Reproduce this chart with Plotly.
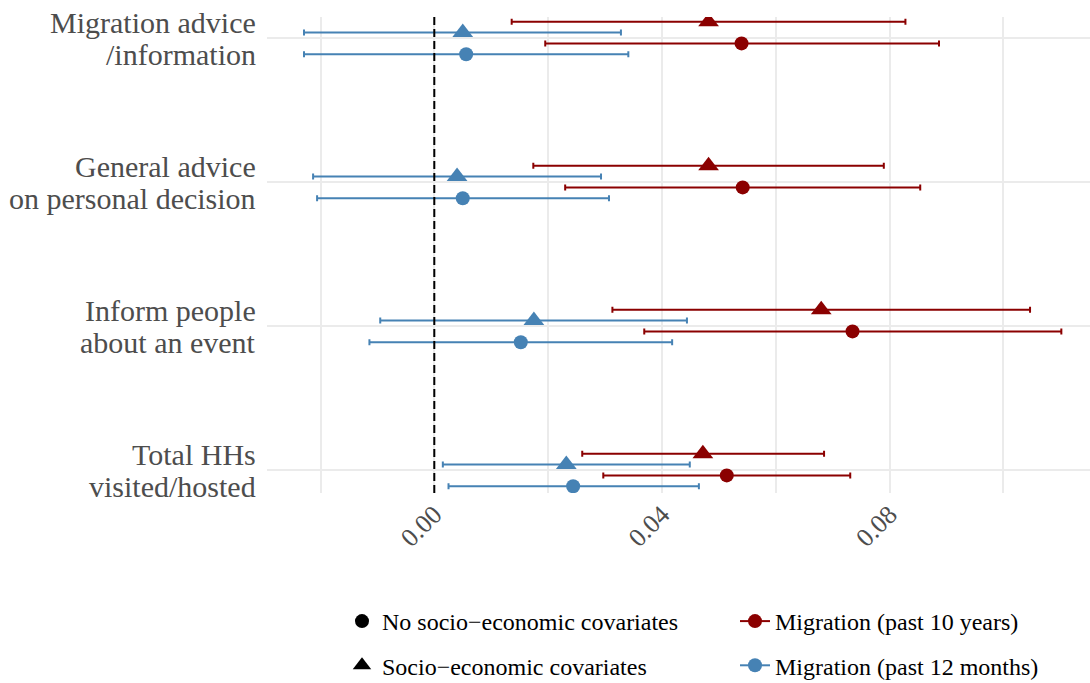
import plotly.graph_objects as go

# Outcome categories (top to bottom), each label split over two lines
category_lines = [
    ("Migration advice", "/information"),
    ("General advice", "on personal decision"),
    ("Inform people", "about an event"),
    ("Total HHs", "visited/hosted"),
]

# Coefficient estimates and 95% confidence bounds
m10_cov_est = [0.0482, 0.0482, 0.0680, 0.0472]
m10_cov_lo = [0.0136, 0.0174, 0.0313, 0.0260]
m10_cov_hi = [0.0828, 0.0790, 0.1047, 0.0685]

m12_cov_est = [0.0050, 0.0040, 0.0175, 0.0232]
m12_cov_lo = [-0.0229, -0.0213, -0.0095, 0.0015]
m12_cov_hi = [0.0328, 0.0293, 0.0444, 0.0449]

m10_nocov_est = [0.0540, 0.0542, 0.0735, 0.0514]
m10_nocov_lo = [0.0195, 0.0230, 0.0369, 0.0297]
m10_nocov_hi = [0.0887, 0.0854, 0.1102, 0.0731]

m12_nocov_est = [0.0056, 0.0050, 0.0152, 0.0244]
m12_nocov_lo = [-0.0229, -0.0206, -0.0114, 0.0025]
m12_nocov_hi = [0.0341, 0.0307, 0.0418, 0.0465]

x_ticks = [0.0, 0.04, 0.08]

RED = "#8B0000"
BLUE = "#4682B4"
FONT = "Liberation Serif, 'Times New Roman', Times, 'DejaVu Serif', serif"

W, H = 1090, 683
PLOT_LEFT, PLOT_TOP, PLOT_BOTTOM = 267, 17, 493

fig = go.Figure()

series = [
    # (est, lo, hi, color, symbol, size, dodge offset)
    (m10_cov_est, m10_cov_lo, m10_cov_hi, RED, "triangle-up", 18, -0.1125),
    (m12_cov_est, m12_cov_lo, m12_cov_hi, BLUE, "triangle-up", 18, -0.0375),
    (m10_nocov_est, m10_nocov_lo, m10_nocov_hi, RED, "circle", 14, 0.0375),
    (m12_nocov_est, m12_nocov_lo, m12_nocov_hi, BLUE, "circle", 14, 0.1125),
]

for est, lo, hi, color, symbol, size, off in series:
    ypos = [i + off for i in range(len(est))]
    fig.add_trace(go.Scatter(
        x=est, y=ypos, mode="markers", showlegend=False,
        marker=dict(color=color, symbol=symbol, size=size, line=dict(width=0)),
        error_x=dict(
            type="data", symmetric=False,
            array=[h - e for h, e in zip(hi, est)],
            arrayminus=[e - l for e, l in zip(est, lo)],
            color=color, thickness=2, width=3,
        ),
    ))

# Legend: marker shape = covariate specification
fig.add_trace(go.Scatter(
    x=[None], y=[None], mode="markers", name="No socio\u2212economic covariates",
    marker=dict(color="black", symbol="circle", size=14),
    legend="legend", legendgroup="a",
))
fig.add_trace(go.Scatter(
    x=[None], y=[None], mode="markers", name="Socio\u2212economic covariates",
    marker=dict(color="black", symbol="triangle-up", size=18),
    legend="legend", legendgroup="b",
))
# Legend: colour = migration measure
fig.add_trace(go.Scatter(
    x=[None], y=[None], mode="lines+markers", name="Migration (past 10 years)",
    marker=dict(color=RED, symbol="circle", size=14), line=dict(color=RED, width=2),
    legend="legend2", legendgroup="c",
))
fig.add_trace(go.Scatter(
    x=[None], y=[None], mode="lines+markers", name="Migration (past 12 months)",
    marker=dict(color=BLUE, symbol="circle", size=14), line=dict(color=BLUE, width=2),
    legend="legend2", legendgroup="d",
))

# Zero reference line
fig.add_shape(type="line", x0=0, x1=0, xref="x", y0=0, y1=1, yref="paper",
              line=dict(color="black", width=2, dash="8px,4px"))

# Two-line category labels on the left
for i, (l1, l2) in enumerate(category_lines):
    for txt, shift in ((l1, 16), (l2, -16)):
        fig.add_annotation(
            x=(PLOT_LEFT - 9) / W, xref="paper", y=i, yref="y", yshift=shift,
            text=txt, showarrow=False, xanchor="right", yanchor="middle",
            font=dict(family=FONT, size=30, color="#4d4d4d"),
        )

px_per_unit = 5690.0
x_zero = 434.3
x_min = (PLOT_LEFT - x_zero) / px_per_unit
x_max = (W - x_zero) / px_per_unit

row_px = 144.0
y_top = -(38 - PLOT_TOP) / row_px
y_bot = 3 + (PLOT_BOTTOM - 470) / row_px

grid = "#ebebeb"
fig.update_xaxes(
    domain=[PLOT_LEFT / W, 1], range=[x_min, x_max],
    tickvals=x_ticks, tickformat=".2f", tickangle=-45,
    tickfont=dict(family=FONT, size=26, color="#4d4d4d"),
    showgrid=True, gridcolor=grid, gridwidth=1.8, zeroline=False,
    showline=False, ticks="", automargin=False,
    minor=dict(tickvals=[-0.02, 0.02, 0.06, 0.10], showgrid=True,
               gridcolor=grid, gridwidth=1.8, ticks=""),
)
fig.update_yaxes(
    range=[y_bot, y_top], tickvals=[0, 1, 2, 3], showticklabels=False,
    showgrid=True, gridcolor=grid, gridwidth=1.8, zeroline=False,
    showline=False, ticks="", automargin=False,
)

plot_h = PLOT_BOTTOM - PLOT_TOP
leg_y = (PLOT_BOTTOM - 599) / plot_h
legend_common = dict(
    yanchor="top", xanchor="left", orientation="v",
    font=dict(family=FONT, size=24, color="black"),
    bgcolor="rgba(0,0,0,0)", tracegroupgap=10, itemsizing="trace",
)
fig.update_layout(
    width=W, height=H,
    margin=dict(l=0, r=0, t=PLOT_TOP, b=H - PLOT_BOTTOM, autoexpand=False),
    plot_bgcolor="white", paper_bgcolor="white",
    legend=dict(x=342 / W, y=leg_y, **legend_common),
    legend2=dict(x=735 / W, y=leg_y, **legend_common),
)

fig.write_html("out.html")
